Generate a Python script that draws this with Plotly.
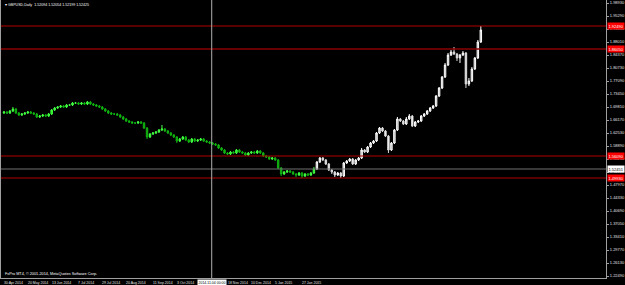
import plotly.graph_objects as go

# ---------------- data ----------------
opens = [1.6813,
 1.6841,1.6813,1.6869,1.6925,1.6813,1.6757,1.6785,1.6813,1.6841,1.6813,
 1.6785,1.6701,1.6729,1.6757,1.6729,1.6785,1.6897,1.6953,1.6981,1.7009,
 1.6981,1.7037,1.7037,1.7093,1.7093,1.7065,1.7093,1.7065,1.7121,1.7065,
 1.7037,1.7009,1.6981,1.6925,1.6869,1.6813,1.6785,1.6785,1.6757,1.6701,
 1.6645,1.6589,1.6561,1.6533,1.6533,1.6561,1.6533,1.6393,1.6141,1.6225,
 1.6253,1.6281,1.6337,1.6365,1.6309,1.6253,1.6197,1.6141,1.6029,1.6085,
 1.6141,1.6057,1.6001,1.6085,1.6029,1.6057,1.6085,1.6029,1.6001,1.5973,
 1.5945,1.5917,1.5833,1.5777,1.5693,1.5665,1.5721,1.5693,1.5777,1.5721,
 1.5693,1.5637,1.5693,1.5721,1.5693,1.5749,1.5693,1.5609,1.5581,1.5525,
 1.5553,1.5497,1.5273,1.5105,1.5161,1.5189,1.5161,1.5105,1.5077,1.5133,
 1.5049,1.5105,1.5077,1.5133,1.5245,1.5441,1.5553,1.5497,1.5385,1.5217,
 1.5161,1.5077,1.5133,1.5049,1.5413,1.5469,1.5525,1.5385,1.5497,1.5553,
 1.5777,1.5721,1.5861,1.5973,1.6029,1.6253,1.6393,1.6309,1.6169,1.5777,
 1.5973,1.6337,1.6645,1.6589,1.6505,1.6645,1.6729,1.6449,1.6561,1.6589,
 1.6729,1.6785,1.6869,1.6953,1.7009,1.7289,1.7513,1.7821,1.8157,1.8437,
 1.8521,1.8465,1.8353,1.8437,1.8493,1.7625,1.7709,1.8045,1.8353,1.8801]

closes = [
 1.6841,1.6813,1.6869,1.6925,1.6813,1.6757,1.6785,1.6813,1.6841,1.6813,
 1.6785,1.6701,1.6729,1.6757,1.6729,1.6785,1.6897,1.6953,1.6981,1.7009,
 1.6981,1.7037,1.7037,1.7093,1.7093,1.7065,1.7093,1.7065,1.7121,1.7065,
 1.7037,1.7009,1.6981,1.6925,1.6869,1.6813,1.6785,1.6785,1.6757,1.6701,
 1.6645,1.6589,1.6561,1.6533,1.6533,1.6561,1.6533,1.6393,1.6141,1.6225,
 1.6253,1.6281,1.6337,1.6365,1.6309,1.6253,1.6197,1.6141,1.6029,1.6085,
 1.6141,1.6057,1.6001,1.6085,1.6029,1.6057,1.6085,1.6029,1.6001,1.5973,
 1.5945,1.5917,1.5833,1.5777,1.5693,1.5665,1.5721,1.5693,1.5777,1.5721,
 1.5693,1.5637,1.5693,1.5721,1.5693,1.5749,1.5693,1.5609,1.5581,1.5525,
 1.5553,1.5497,1.5273,1.5105,1.5161,1.5189,1.5161,1.5105,1.5077,1.5133,
 1.5049,1.5105,1.5077,1.5133,1.5245,1.5441,1.5553,1.5497,1.5385,1.5217,
 1.5161,1.5077,1.5133,1.5049,1.5413,1.5469,1.5525,1.5385,1.5497,1.5553,
 1.5777,1.5721,1.5861,1.5973,1.6029,1.6253,1.6393,1.6309,1.6169,1.5777,
 1.5973,1.6337,1.6645,1.6589,1.6505,1.6645,1.6729,1.6449,1.6561,1.6589,
 1.6729,1.6785,1.6869,1.6953,1.7009,1.7289,1.7513,1.7821,1.8157,1.8437,
 1.8521,1.8465,1.8353,1.8437,1.8493,1.7625,1.7709,1.8045,1.8353,1.8801,
 1.9137]

highs = [
 1.6869,1.6869,1.6897,1.6981,1.6953,1.6841,1.6813,1.6841,1.6869,1.6869,
 1.6841,1.6813,1.6757,1.6785,1.6785,1.6813,1.6925,1.6981,1.7009,1.7037,
 1.7037,1.7065,1.7065,1.7121,1.7121,1.7121,1.7121,1.7121,1.7149,1.7149,
 1.7093,1.7065,1.7037,1.7009,1.6953,1.6897,1.6841,1.6813,1.6813,1.6785,
 1.6729,1.6673,1.6617,1.6589,1.6561,1.6589,1.6589,1.6561,1.6421,1.6253,
 1.6281,1.6309,1.6365,1.6477,1.6393,1.6337,1.6281,1.6225,1.6169,1.6113,
 1.6169,1.6169,1.6085,1.6113,1.6113,1.6085,1.6113,1.6113,1.6057,1.6029,
 1.6001,1.5973,1.5945,1.5861,1.5805,1.5721,1.5749,1.5749,1.5805,1.5805,
 1.5749,1.5721,1.5721,1.5749,1.5749,1.5777,1.5777,1.5721,1.5637,1.5609,
 1.5581,1.5581,1.5525,1.5301,1.5189,1.5217,1.5217,1.5189,1.5133,1.5161,
 1.5161,1.5133,1.5133,1.5161,1.5301,1.5469,1.5581,1.5581,1.5525,1.5413,
 1.5245,1.5189,1.5161,1.5161,1.5441,1.5497,1.5553,1.5553,1.5525,1.5581,
 1.5833,1.5805,1.5889,1.6001,1.6057,1.6281,1.6421,1.6421,1.6337,1.6197,
 1.6001,1.6365,1.6701,1.6673,1.6617,1.6701,1.6785,1.6757,1.6589,1.6617,
 1.6757,1.6813,1.6897,1.6981,1.7037,1.7317,1.7541,1.7849,1.8213,1.8493,
 1.8577,1.8661,1.8493,1.8465,1.8549,1.8521,1.7793,1.8101,1.8381,1.8857,
 1.9249]

lows = [
 1.6785,1.6785,1.6785,1.6841,1.6785,1.6729,1.6729,1.6757,1.6785,1.6785,
 1.6757,1.6673,1.6673,1.6701,1.6701,1.6701,1.6757,1.6869,1.6925,1.6953,
 1.6953,1.6953,1.7009,1.7009,1.7065,1.7037,1.7037,1.7037,1.7037,1.7037,
 1.7009,1.6981,1.6953,1.6897,1.6841,1.6785,1.6757,1.6757,1.6729,1.6673,
 1.6617,1.6561,1.6533,1.6505,1.6505,1.6505,1.6505,1.6365,1.6085,1.6113,
 1.6197,1.6225,1.6253,1.6309,1.6281,1.6225,1.6169,1.6113,1.5973,1.6001,
 1.6057,1.6029,1.5973,1.5973,1.6001,1.6001,1.6029,1.6001,1.5973,1.5945,
 1.5917,1.5889,1.5805,1.5749,1.5665,1.5637,1.5637,1.5665,1.5665,1.5693,
 1.5665,1.5609,1.5609,1.5665,1.5665,1.5665,1.5665,1.5581,1.5553,1.5497,
 1.5497,1.5469,1.5245,1.5049,1.5077,1.5133,1.5133,1.5077,1.5021,1.5049,
 1.4993,1.5021,1.5049,1.5049,1.5105,1.5217,1.5413,1.5469,1.5357,1.5189,
 1.5105,1.5021,1.5049,1.4993,1.5021,1.5385,1.5441,1.5357,1.5357,1.5469,
 1.5525,1.5693,1.5693,1.5833,1.5945,1.6001,1.6225,1.6281,1.6141,1.5693,
 1.5749,1.5945,1.6309,1.6561,1.6477,1.6477,1.6617,1.6421,1.6421,1.6533,
 1.6561,1.6701,1.6757,1.6841,1.6925,1.6981,1.7261,1.7485,1.7793,1.8129,
 1.8409,1.8437,1.8269,1.8213,1.8409,1.7513,1.7569,1.7681,1.8017,1.8325,
 1.8773]

bar_index = list(range(len(closes)))
split_at = 105  # first bar of the white series

date_labels = ["30 Apr 2014", "20 May 2014", "13 Jun 2014", "7 Jul 2014",
               "29 Jul 2014", "20 Aug 2014", "11 Sep 2014", "3 Oct 2014",
               "18 Nov 2014", "10 Dec 2014", "5 Jan 2015", "27 Jan 2015"]
date_bars = [0, 8, 16, 25, 33, 41, 50, 58, 75, 83, 91, 100]

marked_date = "2014.11.04 00:00"
marked_bar = 69.7

price_ticks = [1.98930, 1.95290, 1.91650, 1.88010, 1.84370, 1.80730, 1.77090,
               1.73450, 1.69810, 1.66170, 1.62530, 1.58890, 1.55250, 1.51610,
               1.47970, 1.44330, 1.40690, 1.37050, 1.33410, 1.29770, 1.26130,
               1.22490]

red_levels = [1.92490, 1.56090, 1.49930]
dark_level = 1.86050
bid_price = 1.52451

title_text = "GBPUSD,Daily  1.52094 1.52054 1.52199 1.52425"
footer_text = "FxPro MT4, \u00a9 2001-2014, MetaQuotes Software Corp."

# ---------------- figure ----------------
FONT = "Liberation Sans"
fig = go.Figure()

fig.add_trace(go.Candlestick(
    x=bar_index[:split_at], open=opens[:split_at], high=highs[:split_at],
    low=lows[:split_at], close=closes[:split_at],
    increasing=dict(line=dict(color="#44ff44", width=1), fillcolor="#00e000"),
    decreasing=dict(line=dict(color="#10b010", width=1), fillcolor="#10b010"),
    whiskerwidth=0, showlegend=False, hoverinfo="skip"))

fig.add_trace(go.Candlestick(
    x=bar_index[split_at:], open=opens[split_at:], high=highs[split_at:],
    low=lows[split_at:], close=closes[split_at:],
    increasing=dict(line=dict(color="#ffffff", width=1), fillcolor="#b0b0b0"),
    decreasing=dict(line=dict(color="#d8d8d8", width=1), fillcolor="#ffffff"),
    whiskerwidth=0, showlegend=False, hoverinfo="skip"))

# horizontal levels
for lv in red_levels:
    fig.add_hline(y=lv, line=dict(color="#b00000", width=1))
fig.add_hline(y=dark_level, line=dict(color="#8a0000", width=1.5))
fig.add_hline(y=bid_price, line=dict(color="#707070", width=1))
# vertical line
fig.add_vline(x=marked_bar, line=dict(color="#b0b0b0", width=1))

ann = []
# price labels in boxes on the right axis
for lv in red_levels + [dark_level]:
    ann.append(dict(x=1, xref="paper", xanchor="left", xshift=1, y=lv, yref="y",
                    text=f"{lv:.5f}", showarrow=False, bgcolor="#ff0000",
                    font=dict(family=FONT, size=4, color="#ffffff"),
                    borderpad=0.5))
ann.append(dict(x=1, xref="paper", xanchor="left", xshift=1, y=bid_price, yref="y",
                text=f"{bid_price:.5f}", showarrow=False, bgcolor="#ffffff",
                font=dict(family=FONT, size=4, color="#000000"), borderpad=0.5))
# date labels
for lab, b in zip(date_labels, date_bars):
    ann.append(dict(x=b, xref="x", xanchor="left", xshift=-2, y=0, yref="paper",
                    yanchor="top", yshift=-1, text=lab, showarrow=False,
                    font=dict(family=FONT, size=3.5, color="#e0e0e0")))
ann.append(dict(x=marked_bar, xref="x", xanchor="center", y=0, yref="paper",
                yanchor="top", yshift=-0.5, text=marked_date, showarrow=False,
                bgcolor="#ffffff", font=dict(family=FONT, size=3.5, color="#000000"),
                borderpad=0.5))
# title & footer
ann.append(dict(x=0, xref="paper", xanchor="left", xshift=2, y=1, yref="paper",
                yanchor="top", yshift=-1, text="\u25be " + title_text, showarrow=False,
                font=dict(family=FONT, size=3.6, color="#ffffff")))
ann.append(dict(x=0, xref="paper", xanchor="left", xshift=2, y=0, yref="paper",
                yanchor="bottom", yshift=0, text=footer_text, showarrow=False,
                font=dict(family=FONT, size=3.8, color="#ffffff")))

fig.update_layout(
    width=625, height=285,
    margin=dict(l=0, r=16, t=0, b=7, pad=0),
    paper_bgcolor="#000000", plot_bgcolor="#000000",
    annotations=ann,
    xaxis=dict(range=[-1, 202], showgrid=False, zeroline=False, showticklabels=False,
               showline=True, linecolor="#a0a0a0", linewidth=1,
               rangeslider=dict(visible=False), fixedrange=True),
    yaxis=dict(range=[1.2193, 1.9977], side="right", showgrid=False, zeroline=False,
               tickvals=price_ticks, ticktext=[f"{v:.5f}" for v in price_ticks],
               tickfont=dict(family=FONT, size=4, color="#e0e0e0"),
               ticks="outside", ticklen=2, tickcolor="#a0a0a0",
               showline=True, linecolor="#a0a0a0", linewidth=1, mirror=True,
               fixedrange=True),
)

fig.write_html("out.html")
